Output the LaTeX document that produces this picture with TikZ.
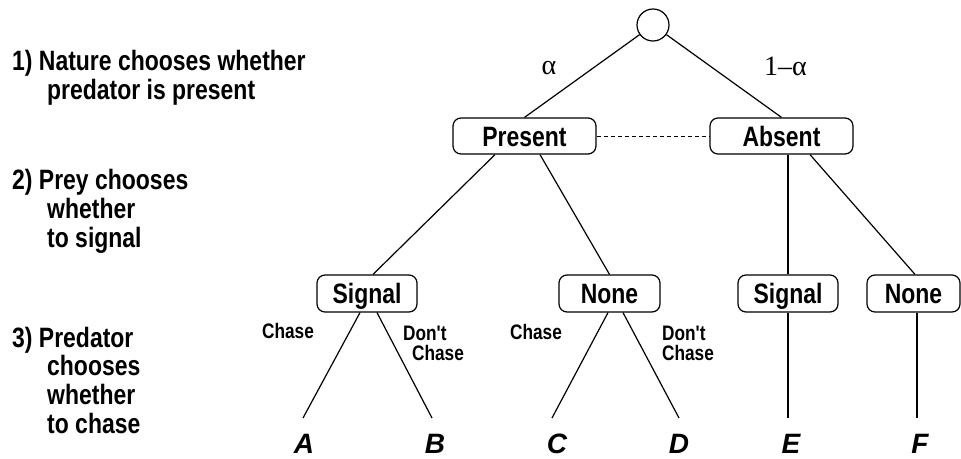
\documentclass[tikz,border=0pt]{standalone}
\usepackage{fontspec}
\usetikzlibrary{calc}
\newfontfamily\narrowfont{Liberation Sans}[FakeStretch=0.82]
\newfontfamily\plainsans{Liberation Sans}
\newfontfamily\greekserif{Liberation Serif}

\tikzset{
  edge/.style={line width=1.2pt},
  choice/.style={draw, line width=1.2pt, rounded corners=8pt, inner sep=0pt,
    minimum height=36pt, text height=20pt, text depth=0pt,
    font=\narrowfont\bfseries\fontsize{28}{28}\selectfont},
  % multi-line nodes: the base anchor sits on the last line
  stage/.style={anchor=base west, inner sep=0pt, align=left,
    font=\narrowfont\bfseries\fontsize{28}{28.6}\selectfont},
  act/.style={anchor=base west, inner sep=0pt, align=left,
    font=\narrowfont\bfseries\fontsize{21}{20}\selectfont},
  prob/.style={anchor=base, inner sep=0pt,
    font=\greekserif\fontsize{28}{28}\selectfont},
  outcome/.style={anchor=base, inner sep=0pt,
    font=\plainsans\bfseries\itshape\fontsize{28}{28}\selectfont},
}

\begin{document}
\begin{tikzpicture}[x=1pt, y=-1pt]
\useasboundingbox[fill=white] (0,0) rectangle (961,458);

% stages of the game
\node[stage] (stage1) at (12,99) {1) Nature chooses whether\\\hspace*{35pt}predator is present};
\node[stage] (stage2) at (12,247) {2) Prey chooses\\\hspace*{35pt}whether\\\hspace*{35pt}to signal};
\node[stage] (stage3) at (12,433) {3) Predator\\\hspace*{35pt}chooses\\\hspace*{35pt}whether\\\hspace*{35pt}to chase};

% nature's move
\node[draw, circle, line width=1.2pt, minimum size=32pt, inner sep=0pt] (root) at (653,25) {};

\node[choice, minimum width=143pt] (present) at (524.5,136) {Present};
\node[choice, minimum width=143pt] (absent) at (781.5,136) {Absent};

\node[prob] (palpha) at (549,74) {α};
\node[prob] (pnot) at (785.5,75) {1–α};

\draw[edge] (root) -- (present.north);
\draw[edge] (root) -- (absent.north);
\draw[line width=1pt, dash pattern=on 4pt off 3pt] (present.east) -- (absent.west);

% prey's move
\node[choice, minimum width=100pt, minimum height=37pt] (sigL) at (367,293.5) {Signal};
\node[choice, minimum width=101pt, minimum height=37pt] (noneL) at (609.5,293.5) {None};
\node[choice, minimum width=100pt, minimum height=37pt] (sigR) at (788,293.5) {Signal};
\node[choice, minimum width=93pt, minimum height=37pt] (noneR) at (913.5,293.5) {None};

\draw[edge] ($(present.south)+(-29.5,0)$) -- ($(sigL.north)+(6,0)$);
\draw[edge] ($(present.south)+(15.5,0)$) -- (noneL.north);
\draw[edge] (sigR.north |- absent.south) -- (sigR.north);
\draw[edge] ($(absent.south)+(28.5,0)$) -- ($(noneR.north)+(1.5,0)$);

% predator's move
\coordinate (endA) at (303,418);
\coordinate (endB) at (432,418);
\coordinate (endC) at (552,418);
\coordinate (endD) at (679,418);
\coordinate (endE) at (788,418);
\coordinate (endF) at (917,418);

\draw[edge] ($(sigL.south)+(-7,0)$) -- (endA);
\draw[edge] ($(sigL.south)+(10,0)$) -- (endB);
\draw[edge] ($(noneL.south)+(-1.5,0)$) -- (endC);
\draw[edge] ($(noneL.south)+(13.5,0)$) -- (endD);
\draw[edge] (sigR.south) -- (endE);
\draw[edge] (endF |- noneR.south) -- (endF);

\node[act] (chaseL) at (262,338) {Chase};
\node[act] (dontL) at (403,360) {Don't\\\hspace*{9pt}Chase};
\node[act] (chaseM) at (510,339) {Chase};
\node[act] (dontM) at (662,360) {Don't\\Chase};

% outcomes
\node[outcome] (outA) at (304,453) {A};
\node[outcome] (outB) at (435,453) {B};
\node[outcome] (outC) at (557,453) {C};
\node[outcome] (outD) at (679,453) {D};
\node[outcome] (outE) at (791,453) {E};
\node[outcome] (outF) at (920,453) {F};
\end{tikzpicture}
\end{document}
